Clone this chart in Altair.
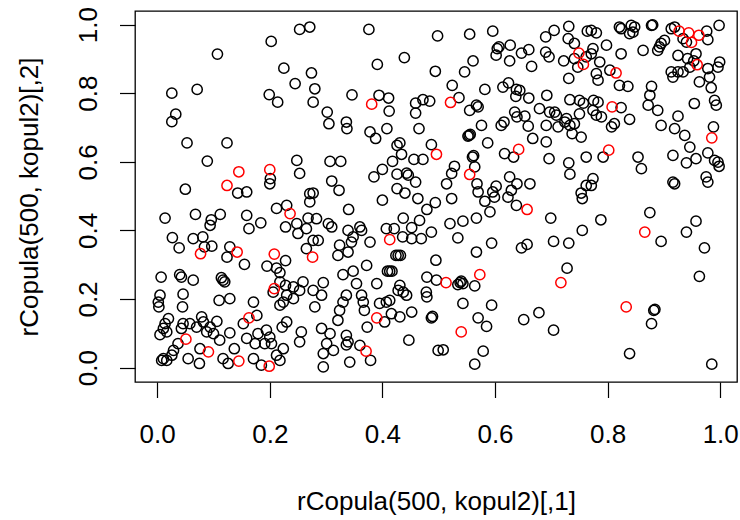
import altair as alt
import pandas as pd

# ---- data ----
black_x = [
0.2025,0.107,0.225,0.026,0.071,0.199,0.214,0.033,0.026,0.053,0.124,0.089,0.201,0.200,0.050,0.143,0.159,
0.014,0.068,0.096,0.112,0.094,0.159,0.184,0.163,0.212,0.228,0.027,0.039,0.064,0.081,0.084,0.097,0.129,0.124,0.155,0.195,0.212,0.228,0.218,0.218,0.206,0.228,0.230,0.224,0.218,0.007,0.040,0.043,0.064,0.117,0.114,0.120,0.005,0.002,0.003,0.046,0.045,0.110,0.129,0.171,0.177,0.153,0.020,0.014,0.011,0.005,0.017,0.046,0.043,0.058,0.070,0.082,0.079,0.094,0.106,0.100,0.088,0.111,0.129,0.037,0.029,0.026,0.011,0.008,0.017,0.055,0.075,0.076,0.117,0.126,0.137,0.159,0.174,0.179,0.194,0.200,0.203,0.191,0.224,0.212,0.218,0.185,0.171,0.222,0.230,0.230,
0.253,0.271,0.376,0.498,0.439,0.391,0.494,0.274,0.245,0.280,0.277,0.346,0.394,0.411,0.412,0.459,0.472,0.484,0.459,0.302,0.305,0.336,0.337,0.408,0.465,0.378,0.388,0.431,0.426,0.487,0.434,0.456,0.472,0.418,0.248,0.253,0.307,0.326,0.400,0.385,0.426,0.443,0.446,0.459,0.310,0.323,0.277,0.271,0.426,0.440,
0.271,0.400,0.463,0.494,0.479,0.340,0.268,0.283,0.248,0.250,0.265,0.304,0.310,0.437,0.452,0.466,0.487,0.469,0.452,0.436,0.407,0.421,0.339,0.360,0.363,0.348,0.345,0.378,0.324,0.321,0.339,0.277,0.286,0.265,0.428,0.424,0.432,0.495,0.372,0.348,0.330,0.413,0.409,0.417,0.354,0.390,0.479,0.496,0.431,0.428,0.437,0.443,0.478,0.479,0.259,0.242,0.253,0.242,0.277,0.295,0.292,0.280,0.336,0.330,0.324,0.321,0.363,0.366,0.368,0.395,0.407,0.413,0.404,0.416,0.431,0.452,0.373,0.487,0.489,0.256,0.253,0.292,0.307,0.301,0.313,0.295,0.295,0.336,0.339,0.336,0.342,0.360,0.379,0.447,0.499,
0.555,0.596,0.607,0.604,0.602,0.627,0.626,0.647,0.660,0.665,0.690,0.705,0.690,0.696,0.731,0.730,0.741,0.764,0.722,0.741,0.762,0.747,0.731,0.561,0.546,0.524,0.536,0.582,0.614,0.624,0.638,0.644,0.637,0.660,0.692,0.555,0.567,0.570,0.576,0.554,0.556,0.552,0.587,0.611,0.616,0.635,0.639,0.653,0.659,0.667,0.679,0.697,0.706,0.709,0.712,0.724,0.733,0.727,0.741,0.737,0.753,0.691,0.733,0.750,0.757,0.750,0.691,0.617,0.633,0.560,0.562,0.528,0.523,0.514,0.564,0.568,0.570,0.602,0.596,0.626,0.639,0.629,0.662,0.696,0.731,0.733,0.762,0.762,0.753,
0.523,0.582,0.599,0.591,0.567,0.623,0.638,0.755,0.699,0.755,0.520,0.543,0.534,0.594,0.567,0.647,0.657,0.704,0.731,0.728,0.534,0.540,0.543,0.538,0.564,0.543,0.594,0.570,0.585,0.651,0.678,0.704,0.508,0.579,0.564,
0.821,0.824,0.842,0.845,0.848,0.839,0.878,0.880,0.913,0.919,0.934,0.940,0.976,0.978,0.998,0.771,0.780,0.798,0.774,0.771,0.786,0.824,0.863,0.889,0.895,0.901,0.892,0.925,0.942,0.957,0.953,0.999,0.996,0.978,0.981,0.963,0.984,0.913,0.916,0.925,0.934,0.946,0.804,0.780,0.783,0.821,0.836,0.878,0.875,0.872,0.889,0.775,0.783,0.774,0.780,0.789,0.824,0.839,0.807,0.812,0.954,0.990,0.993,0.925,0.919,0.937,0.946,0.895,0.988,0.792,0.854,0.860,0.916,0.940,0.957,0.978,0.990,0.998,0.996,0.774,0.771,0.916,0.919,0.975,0.978,
0.788,0.875,0.895,0.940,0.957,0.972,0.963,0.882,0.884,0.878,0.839,0.985,
]
black_y = [
0.951,0.914,0.873,0.800,0.811,0.796,0.774,0.739,0.717,0.655,0.655,0.602,0.551,0.536,0.520,0.509,0.512,
0.436,0.447,0.431,0.447,0.415,0.444,0.422,0.405,0.464,0.410,0.379,0.349,0.376,0.381,0.352,0.354,0.352,0.322,0.301,0.296,0.290,0.312,0.277,0.250,0.220,0.240,0.211,0.191,0.182,0.264,0.271,0.264,0.255,0.255,0.262,0.250,0.211,0.191,0.177,0.214,0.177,0.196,0.201,0.191,0.152,0.128,0.143,0.128,0.114,0.096,0.104,0.128,0.114,0.128,0.118,0.133,0.148,0.118,0.135,0.099,0.104,0.080,0.101,0.070,0.050,0.036,0.026,0.021,0.021,0.026,0.012,0.055,0.026,0.012,0.055,0.085,0.070,0.099,0.109,0.089,0.070,0.070,0.055,0.036,0.021,0.007,0.026,0.118,0.133,0.473,
0.986,0.993,0.986,0.967,0.904,0.884,0.864,0.859,0.828,0.813,0.774,0.795,0.794,0.786,0.748,0.771,0.781,0.777,0.742,0.745,0.711,0.716,0.697,0.697,0.697,0.687,0.668,0.655,0.648,0.650,0.622,0.607,0.607,0.601,0.604,0.566,0.601,0.601,0.578,0.556,0.564,0.567,0.561,0.541,0.544,0.517,0.509,0.507,0.522,0.509,
0.483,0.488,0.493,0.481,0.461,0.461,0.436,0.434,0.420,0.391,0.405,0.420,0.410,0.436,0.408,0.429,0.395,0.376,0.376,0.381,0.405,0.405,0.400,0.410,0.400,0.381,0.366,0.366,0.357,0.327,0.337,0.371,0.371,0.347,0.327,0.327,0.327,0.313,0.298,0.281,0.271,0.281,0.281,0.281,0.245,0.245,0.264,0.255,0.240,0.225,0.220,0.211,0.220,0.206,0.250,0.235,0.225,0.201,0.225,0.248,0.211,0.177,0.211,0.191,0.167,0.138,0.211,0.191,0.167,0.187,0.191,0.196,0.133,0.157,0.148,0.162,0.118,0.145,0.149,0.104,0.075,0.114,0.099,0.070,0.050,0.041,0.002,0.094,0.075,0.066,0.016,0.065,0.021,0.080,0.050,
0.972,0.981,0.935,0.930,0.911,0.940,0.894,0.917,0.927,0.878,0.964,0.983,0.920,0.906,0.995,0.959,0.945,0.981,0.894,0.901,0.906,0.876,0.843,0.894,0.862,0.823,0.787,0.811,0.818,0.830,0.811,0.808,0.791,0.786,0.794,0.750,0.765,0.760,0.706,0.677,0.680,0.675,0.655,0.706,0.716,0.745,0.731,0.733,0.704,0.668,0.755,0.745,0.745,0.736,0.702,0.716,0.706,0.726,0.711,0.682,0.672,0.706,0.781,0.779,0.771,0.740,0.658,0.624,0.614,0.614,0.618,0.587,0.566,0.536,0.585,0.536,0.512,0.529,0.512,0.556,0.536,0.517,0.536,0.609,0.597,0.564,0.614,0.531,0.509,
0.493,0.485,0.497,0.454,0.436,0.497,0.473,0.493,0.436,0.400,0.420,0.427,0.378,0.363,0.337,0.349,0.359,0.368,0.363,0.290,0.242,0.252,0.245,0.248,0.238,0.187,0.182,0.145,0.120,0.140,0.160,0.109,0.052,0.048,0.010,
0.993,0.988,0.998,0.978,0.993,0.974,0.998,0.999,0.988,0.993,0.959,0.949,0.981,0.956,0.998,0.983,0.976,0.940,0.930,0.915,0.891,0.915,0.925,0.925,0.945,0.954,0.935,0.910,0.901,0.915,0.894,0.891,0.876,0.872,0.847,0.833,0.816,0.862,0.847,0.862,0.862,0.876,0.867,0.857,0.838,0.823,0.820,0.820,0.794,0.765,0.750,0.779,0.774,0.750,0.736,0.731,0.758,0.724,0.702,0.711,0.770,0.779,0.765,0.733,0.697,0.677,0.643,0.706,0.702,0.614,0.614,0.580,0.619,0.597,0.609,0.626,0.604,0.587,0.599,0.551,0.531,0.541,0.536,0.556,0.541,
0.431,0.452,0.368,0.395,0.427,0.349,0.266,0.167,0.170,0.128,0.041,0.010,
]
red_x = [0.145,0.200,0.124,
         0.236,0.077,0.142,0.208,0.208,0.163,0.051,0.091,0.145,0.199,
         0.381,0.496,
         0.413,0.276,0.390,0.371,
         0.749,0.757,0.521,0.642,0.555,
         0.657,0.717,0.513,0.573,0.540,
         0.927,0.944,0.962,0.949,0.959,0.815,0.808,0.985,0.802,
         0.866,0.833]
red_y = [0.571,0.577,0.531,
         0.449,0.332,0.337,0.331,0.230,0.145,0.083,0.046,0.019,0.004,
         0.768,0.622,
         0.373,0.322,0.145,0.048,
         0.917,0.884,0.773,0.636,0.563,
         0.461,0.248,0.248,0.271,0.104,
         0.981,0.976,0.969,0.948,0.883,0.859,0.760,0.670,0.634,
         0.395,0.177]

tick_values = [0.0, 0.2, 0.4, 0.6, 0.8, 1.0]
x_title = "rCopula(500, kopul2)[,1]"
y_title = "rCopula(500, kopul2)[,2]"

n = min(len(black_x), len(black_y))
df = pd.concat([
    pd.DataFrame({"x": black_x[:n], "y": black_y[:n], "grp": "black"}),
    pd.DataFrame({"x": red_x, "y": red_y, "grp": "red"}),
], ignore_index=True)

FONT = "Liberation Sans"

chart = alt.Chart(df).mark_point(
    shape="circle", filled=False, size=105, strokeWidth=1.5, opacity=1
).encode(
    x=alt.X("x:Q",
            scale=alt.Scale(domain=[-0.0394, 1.0298], nice=False, zero=False),
            axis=alt.Axis(values=tick_values, format=".1f", title=x_title,
                          labelPadding=45, labelBaseline="alphabetic",
                          titleX=301, titleY=127, titleBaseline="alphabetic",
                          titleAlign="center")),
    y=alt.Y("y:Q",
            scale=alt.Scale(domain=[-0.042, 1.0397], nice=False, zero=False),
            axis=alt.Axis(values=tick_values, format=".1f", title=y_title,
                          labelAngle=270, labelAlign="center",
                          labelBaseline="alphabetic", labelPadding=23,
                          titleAngle=270, titleX=-98, titleY=185.5,
                          titleAlign="center", titleBaseline="alphabetic")),
    color=alt.Color("grp:N",
                    scale=alt.Scale(domain=["black", "red"], range=["#000000", "#ff0000"]),
                    legend=None),
).properties(
    width=602, height=371,
    autosize=alt.AutoSizeParams(type="none"),
    padding={"left": 135, "top": 11, "right": 3, "bottom": 138},
    background="white",
).configure_view(
    stroke="#000000", strokeWidth=1.3
).configure_axis(
    domain=False, grid=False,
    tickColor="#000000", tickWidth=1.2, tickSize=15.5,
    labelFont=FONT, labelFontSize=26, labelColor="#000000",
    titleFont=FONT, titleFontSize=26, titleFontWeight="normal", titleColor="#000000",
    labelOverlap=False, labelFlush=False,
)

chart.save("out.html", embed_options={"renderer": "svg", "actions": False})
